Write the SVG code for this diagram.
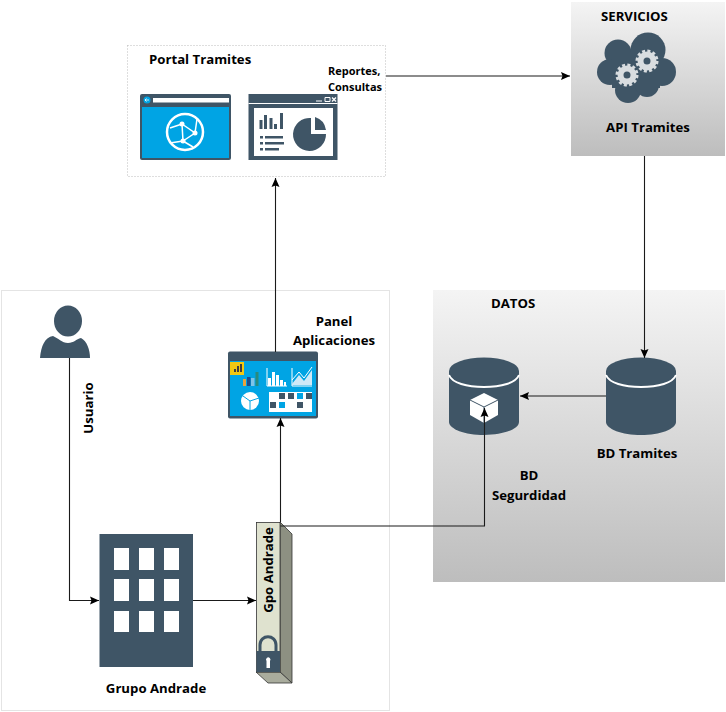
<svg xmlns="http://www.w3.org/2000/svg" width="726" height="712" viewBox="0 0 726 712">
<defs>
<linearGradient id="g" x1="0" y1="0" x2="0" y2="1"><stop offset="0" stop-color="#f4f4f4"/><stop offset="1" stop-color="#bdbdbd"/></linearGradient>
<marker id="a" markerUnits="userSpaceOnUse" markerWidth="10" markerHeight="10" refX="9" refY="4.500" orient="auto"><path d="M0 0.500L9 4.500L0 8.500L1.500 4.500Z" fill="#000"/></marker>
<g id="db"><path d="M0 13V64C0 71 16 77 35 77S70 71 70 64V13Z" fill="#3f5566"/><ellipse cx="35" cy="13" rx="35" ry="13.500" fill="#3f5566"/><path d="M0 17C3 25 18 29 35 29S67 25 70 17" fill="none" stroke="#fff" stroke-width="2"/></g>
<g id="gear"><circle r="6.500" fill="none" stroke="#d9dde0" stroke-width="6"/><circle r="10" fill="none" stroke="#d9dde0" stroke-width="3" stroke-dasharray="3 2.240"/></g>
</defs>
<style>
text{font-family:"Open Sans","Noto Sans","DejaVu Sans",sans-serif;font-weight:700;font-size:13.200px;fill:#000}
.s{font-size:11px}
.c{fill:none;stroke:#1a1a1a;stroke-width:1.100}
.i{fill:#3f5566}
.b{fill:#00a4e4}
.w{fill:#fff}
.wl{fill:none;stroke:#fff}
.m{text-anchor:middle}
</style>
<rect width="726" height="712" fill="#fff"/>
<g id="grupo-panel"><rect x="1.500" y="290.500" width="388" height="420" fill="#fff" stroke="#e4e4e4"/></g>
<g id="datos"><rect x="433" y="290" width="292" height="292" fill="url(#g)"/><text x="491" y="308">DATOS</text></g>
<g id="servicios"><rect x="571" y="2" width="154" height="154" fill="url(#g)"/><text x="601" y="21">SERVICIOS</text>
<g class="i"><circle cx="618" cy="53" r="13.500"/><circle cx="648" cy="50" r="17.500"/><circle cx="662" cy="72" r="14"/><circle cx="610" cy="72" r="13"/><circle cx="628" cy="90" r="13"/><circle cx="647" cy="85" r="12"/><rect x="612" y="52" width="48" height="36"/></g>
<use href="#gear" x="647" y="61"/><use href="#gear" x="627" y="75"/>
<text class="m" x="648" y="132">API Tramites</text></g>
<g id="portal"><rect x="127.500" y="45.500" width="258" height="131" fill="#fff" stroke="#bdbdbd" stroke-dasharray="1 2"/>
<text x="149" y="64">Portal Tramites</text>
<text class="s" x="328" y="75">Reportes,</text><text class="s" x="328" y="91">Consultas</text>
<rect class="i" x="140" y="94" width="91" height="66" rx="2"/><rect class="b" x="142" y="107" width="87" height="51"/><rect class="w" x="153" y="98" width="76" height="4.500"/><circle class="b" cx="147" cy="100" r="3.500"/><path class="wl" stroke-width=".8" d="M149 100H145M146.500 98.500L145 100L146.500 101.500"/>
<circle class="wl" cx="185" cy="132" r="18" stroke-width="2.500"/><path class="wl" stroke-width="1.500" d="M182 124L195 133L183 141ZM182 124L170 128M195 133L197 119M183 141L170 143M183 141L193 147"/><circle class="w" cx="182" cy="124" r="2.500"/><circle class="w" cx="195" cy="133" r="2.500"/><circle class="w" cx="183" cy="141" r="2.500"/>
<rect class="i" x="248.500" y="94" width="89" height="66"/><rect class="w" x="254" y="108" width="79" height="48"/><rect class="w" x="248.500" y="103" width="89" height="1"/><path class="wl" d="M316 101H322M325 97.500H330V101.500H325Z"/><path class="wl" d="M332 97.500L336 101.500M336 97.500L332 101.500" stroke-width="1.300"/>
<path class="i" d="M259.500 120h3v9h-3zM264 115h3v14h-3zM269.500 118h3v11h-3zM274 124h3v5h-3zM280 113h3v16h-3z"/>
<path class="i" d="M260 136h3v2.500h-3zM265 136h18v2.500h-18zM260 142h3v2.500h-3zM265 142h19v2.500h-19zM260 148h3v2.500h-3zM265 148h14v2.500h-14z"/>
<path class="i" d="M311 118A16.500 16.500 0 1 0 326 134H311Z"/><path class="i" d="M315 117A16 16 0 0 1 326 130H315Z"/></g>
<g id="panel-aplicaciones"><text class="m" x="334" y="326">Panel</text><text class="m" x="334" y="345">Aplicaciones</text>
<rect class="i" x="228" y="351.500" width="90" height="67" rx="2"/><rect class="b" x="230" y="361" width="86" height="55"/>
<rect x="230" y="362" width="14" height="13" fill="#f2c811"/><path d="M234 372h2v-3h-2zM237 372h2v-6h-2zM240 372h2v-8h-2z" fill="#3f3f3f"/>
<path fill="#e8a33d" d="M243 379h3v7h-3z"/><path fill="#1c4d8f" d="M247 377h3.500v9H247z"/><path fill="#7fc4e8" d="M251 378h3.500v8H251z"/><path fill="#2a8a7d" d="M255.500 372h3v14h-3z"/>
<path class="wl" d="M267 368V386H287"/><path class="w" d="M268 378h3v8h-3zM272 372h3v14h-3zM276 375h3v11h-3zM280 380h3v6h-3zM284 382h2v4h-2z"/>
<path class="wl" d="M292 368V386H312"/><path fill="#cfe9f7" d="M292 384L299 375L304 381L312 370V385H292Z"/><path class="wl" d="M292 380L299 372L304 378L312 367"/>
<circle class="w" cx="250" cy="401" r="9"/><path stroke="#00a4e4" fill="none" d="M250 401L243 396M250 401L259 398M250 401V410"/>
<rect class="w" x="269" y="392" width="43" height="20"/><path class="i" d="M279 393h6v6h-6zM288 393h6v6h-6zM306 393h6v6h-6zM270 402h6v6h-6zM297 402h6v6h-6z"/><path class="b" d="M297 393h6v6h-6zM279 402h6v6h-6z"/></g>
<g id="bd-seguridad"><use href="#db" x="449" y="358"/><path class="w" d="M484 393L498 400V415L484 423L470 415V400Z"/><path fill="none" stroke="#3f5566" d="M470 400L484 407L498 400M484 407V423"/>
<text class="m" x="529" y="480">BD</text><text class="m" x="529" y="500">Segurdidad</text></g>
<g id="bd-tramites"><use href="#db" x="606" y="358"/><text class="m" x="637" y="458">BD Tramites</text></g>
<g id="usuario"><ellipse class="i" cx="68" cy="321" rx="14" ry="15.500"/><path class="i" d="M40 358C41 346 45 337 53 336C58 338 62 343 68 343C74 343 76 339 81 338C87 341 90 350 90 358Z"/>
<text class="m" transform="translate(93 408) rotate(-90)">Usuario</text></g>
<g id="grupo-andrade"><rect class="i" x="99.500" y="534" width="93.500" height="133"/>
<path class="w" d="M114 548h15v22h-15zM139 548h15v22h-15zM164 548h15v22h-15zM114 579h15v22h-15zM139 579h15v22h-15zM164 579h15v22h-15zM114 611h15v21h-15zM139 611h15v21h-15zM164 611h15v21h-15z"/>
<text class="m" x="156" y="693">Grupo Andrade</text></g>
<g id="gpo-andrade"><path d="M280 522L292 534V683L280 672Z" fill="#8d9082" stroke="#333" stroke-width=".8"/><path d="M256 672H280L292 683H268Z" fill="#a9ac9d" stroke="#333" stroke-width=".8"/><rect x="256.500" y="522.500" width="23.500" height="149.500" fill="#dfe2cf" stroke="#333" stroke-width=".8"/>
<path fill="none" stroke="#3f5566" stroke-width="3" d="M260 651V645C260 634 276 634 276 645V651"/><rect class="i" x="256.500" y="651" width="23.500" height="21"/><path class="w" d="M266.500 661a2.200 2.200 0 1 1 3.500 0v7h-3.500z"/>
<text class="m" transform="translate(273 570) rotate(-90)">Gpo Andrade</text></g>
<g id="connectors">
<path class="c" marker-end="url(#a)" d="M275.500 352V178"/>
<path class="c" marker-end="url(#a)" d="M386 76H570"/>
<path class="c" marker-end="url(#a)" d="M644.500 156V358"/>
<path class="c" marker-end="url(#a)" d="M606 396H520"/>
<path class="c" marker-end="url(#a)" d="M280.500 526H484.500V408"/>
<path class="c" marker-end="url(#a)" d="M280.500 522V418"/>
<path class="c" marker-end="url(#a)" d="M69.500 358V600.500H99"/>
<path class="c" marker-end="url(#a)" d="M193 600.500H256"/>
</g>
</svg>
